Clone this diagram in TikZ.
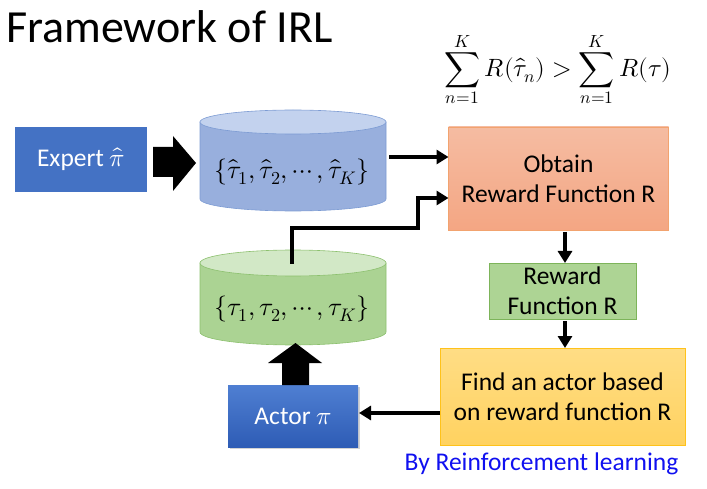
\documentclass[tikz,border=0pt]{standalone}
\usepackage{fontspec}
\usepackage{unicode-math}
\setmainfont{Carlito}
\setmathfont{Latin Modern Math}
\usetikzlibrary{arrows.meta,calc,shadows}

\definecolor{expertblue}{HTML}{4472C4}
\definecolor{actortop}{HTML}{4F7FD2}
\definecolor{actorbot}{HTML}{2E5CB5}
\definecolor{cylblue}{HTML}{98AFDD}
\definecolor{cylbluetop}{HTML}{C3D2EE}
\definecolor{cylblueline}{HTML}{7C9BD3}
\definecolor{cylgreen}{HTML}{ABD393}
\definecolor{cylgreentop}{HTML}{D2E8C6}
\definecolor{cylgreenline}{HTML}{8CC06E}
\definecolor{salmontop}{HTML}{F5BCA2}
\definecolor{salmonbot}{HTML}{F4A683}
\definecolor{salmonline}{HTML}{F2A36F}
\definecolor{rewardfill}{HTML}{ADD494}
\definecolor{rewardline}{HTML}{7DB45A}
\definecolor{findtop}{HTML}{FFDD85}
\definecolor{findbot}{HTML}{FFD260}
\definecolor{findline}{HTML}{FFC21A}
\definecolor{rlblue}{HTML}{1010F0}

\tikzset{
  box/.style={inner sep=0pt, outer sep=0pt, align=center,
    font=\fontsize{25.5}{30}\selectfont},
  conn/.style={line width=3.6pt, line join=miter,
    -{Triangle[length=12pt,width=14pt]}},
  bigarrow/.style={fill=black, draw=none},
  cylbody/.style={inner sep=0pt, outer sep=0pt, minimum width=186},
  settext/.style={inner sep=0pt, font=\fontsize{26}{30}\selectfont},
}

\begin{document}
\begin{tikzpicture}[x=1pt,y=-1pt]
\useasboundingbox (0,0) rectangle (707,489);

% title and criterion
\node[anchor=west, inner sep=0pt, font=\fontsize{46}{50}\selectfont] (title) at (6,27) {Framework of IRL};
\node[inner sep=0pt, font=\fontsize{25}{30}\selectfont] (crit) at (558,70)
  {$\displaystyle\sum_{n=1}^{K} R(\hat{\tau}_n) > \sum_{n=1}^{K} R(\tau)$};

% expert policy
\node[box, fill=expertblue, text=white, minimum width=132, minimum height=65] (expert) at (81,159.5)
  {Expert $\widehat{\pi}$};

% expert trajectories (blue cylinder)
\fill[cylblue, draw=cylblueline, line width=0.6pt]
  (200,122) -- (200,199) arc[start angle=180, end angle=0, x radius=93, y radius=12]
  -- (386,122) -- cycle;
\fill[cylbluetop, draw=cylblueline, line width=0.6pt] (293,122) ellipse[x radius=93, y radius=12];
\node[cylbody, minimum height=101] (bluecyl) at (293,160.5) {};
\node[settext] (bluetext) at (292,172)
  {$\{\hat{\tau}_1,\hat{\tau}_2,\cdots,\hat{\tau}_K\}$};

% actor trajectories (green cylinder)
\fill[cylgreen, draw=cylgreenline, line width=0.6pt]
  (200,263) -- (200,332) arc[start angle=180, end angle=0, x radius=93, y radius=13]
  -- (386,263) -- cycle;
\fill[cylgreentop, draw=cylgreenline, line width=0.6pt] (293,263) ellipse[x radius=93, y radius=13];
\node[cylbody, minimum height=95] (greencyl) at (293,297.5) {};
\node[settext] (greentext) at (292,309)
  {$\{\tau_1,\tau_2,\cdots,\tau_K\}$};

% reward learning step
\node[box, top color=salmontop, bottom color=salmonbot, draw=salmonline, line width=0.8pt,
      minimum width=220, minimum height=103] (obtain) at (558.5,178.5)
  {Obtain\\Reward Function R};

\node[box, fill=rewardfill, draw=rewardline, line width=0.8pt,
      minimum width=147, minimum height=56] (reward) at (562.5,291)
  {Reward\\Function R};

\node[box, top color=findtop, bottom color=findbot, draw=findline, line width=0.8pt,
      minimum width=245, minimum height=97] (find) at (562.5,396.5)
  {Find an actor based\\on reward function R};

\node[box, top color=actortop, bottom color=actorbot, text=white,
      drop shadow={opacity=0.35, shadow xshift=2pt, shadow yshift=-2pt},
      minimum width=130, minimum height=62] (actor) at (293,416)
  {Actor $\pi$};

\node[inner sep=0pt, text=rlblue, font=\fontsize{25.5}{30}\selectfont] (rl) at (541.5,464)
  {By Reinforcement learning};

% block arrows
\begin{scope}[shift={(expert.east)}]
  \fill[bigarrow] (6,-12.5) -- (26,-12.5) -- (26,-23.5) -- (49,3.5) -- (26,31.5)
    -- (26,17.5) -- (6,17.5) -- cycle;
\end{scope}
\begin{scope}[shift={(actor.north)}]
  \fill[bigarrow] (-11,0) -- (-11,-22) -- (-25,-22) -- (2.5,-42) -- (29,-22)
    -- (16,-22) -- (16,0) -- cycle;
\end{scope}

% connectors
\draw[conn] ([xshift=3pt]bluecyl.east |- 0,157) -- (obtain.west |- 0,157);
\draw[conn] (greentext |- 0,264) -- (greentext |- 0,228) -- (418,228) -- (418,198)
  -- (obtain.west |- 0,198);
\draw[conn] ([yshift=-2pt]obtain.south -| 565,0) -- (reward.north -| 565,0);
\draw[conn] ([yshift=-2pt]reward.south -| 565,0) -- (find.north -| 565,0);
\draw[conn] (find.west |- 0,413) -- ([xshift=1pt]actor.east |- 0,413);
\end{tikzpicture}
\end{document}
